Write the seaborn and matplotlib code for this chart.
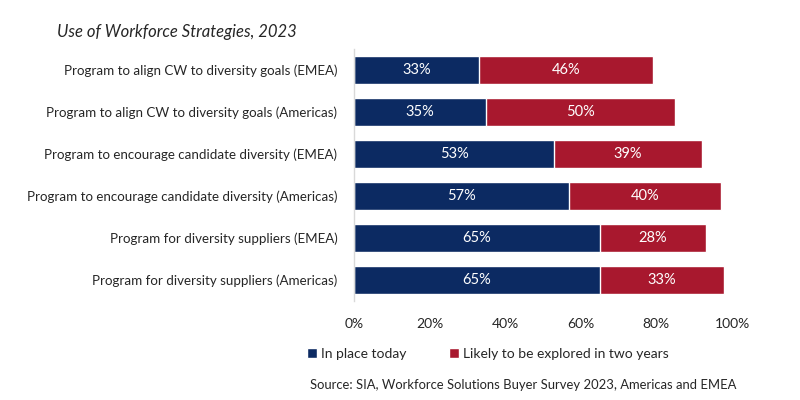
import matplotlib
matplotlib.use("Agg")
import matplotlib.pyplot as plt
import seaborn as sns
import pandas as pd
from matplotlib.patches import Patch
from matplotlib.ticker import PercentFormatter

categories = [
    "Program to align CW to diversity goals (EMEA)",
    "Program to align CW to diversity goals (Americas)",
    "Program to encourage candidate diversity (EMEA)",
    "Program to encourage candidate diversity (Americas)",
    "Program for diversity suppliers (EMEA)",
    "Program for diversity suppliers (Americas)",
]
in_place = [33, 35, 53, 57, 65, 65]
likely = [46, 50, 39, 40, 28, 33]
series_names = ["In place today", "Likely to be explored in two years"]

NAVY = "#0c2a62"
RED = "#a8182e"
TEXT = "#262626"


def main():
    sns.set_style("white")
    plt.rcParams["font.family"] = ["Lato", "DejaVu Sans"]

    df = pd.DataFrame({"cat": categories, "in_place": in_place, "likely": likely})
    df["total"] = df["in_place"] + df["likely"]

    fig = plt.figure(figsize=(8, 4), dpi=100)
    ax = fig.add_axes([0.4425, 0.2475, 0.4725, 0.63])

    # stacked: draw total in red, then blue on top
    sns.barplot(data=df, y="cat", x="total", color=RED, orient="h", width=0.667,
                saturation=1, ax=ax)
    sns.barplot(data=df, y="cat", x="in_place", color=NAVY, orient="h", width=0.667,
                saturation=1, ax=ax)

    for i, row in df.iterrows():
        ax.text(row["in_place"] / 2, i, f"{row['in_place']}%", ha="center", va="center",
                color="white", fontsize=10.5)
        ax.text(row["in_place"] + row["likely"] / 2, i, f"{row['likely']}%", ha="center",
                va="center", color="white", fontsize=10.5)

    ax.set_xlim(0, 100)
    ax.set_ylim(5.5, -0.5)
    ax.set_xticks([0, 20, 40, 60, 80, 100])
    ax.xaxis.set_major_formatter(PercentFormatter(decimals=0))
    ax.set_xlabel("")
    ax.set_ylabel("")
    ax.tick_params(axis="x", length=0, pad=12, labelsize=10, labelcolor=TEXT)
    ax.tick_params(axis="y", length=0, pad=12, labelsize=9.6, labelcolor=TEXT)
    for s in ["top", "right", "bottom"]:
        ax.spines[s].set_visible(False)
    ax.spines["left"].set_color("#d9d9d9")
    ax.spines["left"].set_linewidth(1)

    fig.text(0.071, 0.92, "Use of Workforce Strategies, 2023", fontsize=12,
             style="italic", color=TEXT, va="center")

    handles = [Patch(facecolor=NAVY), Patch(facecolor=RED)]
    fig.legend(handles, series_names, loc="center left", bbox_to_anchor=(0.368, 0.115),
               ncol=2, frameon=False, fontsize=10, handlelength=0.7, handleheight=0.7,
               handletextpad=0.3, columnspacing=3.1, labelcolor=TEXT)

    fig.text(0.387, 0.037, "Source: SIA, Workforce Solutions Buyer Survey 2023, Americas and EMEA",
             fontsize=9.4, color=TEXT, va="center")

    fig.savefig("out.png", dpi=100)


if __name__ == "__main__":
    main()
